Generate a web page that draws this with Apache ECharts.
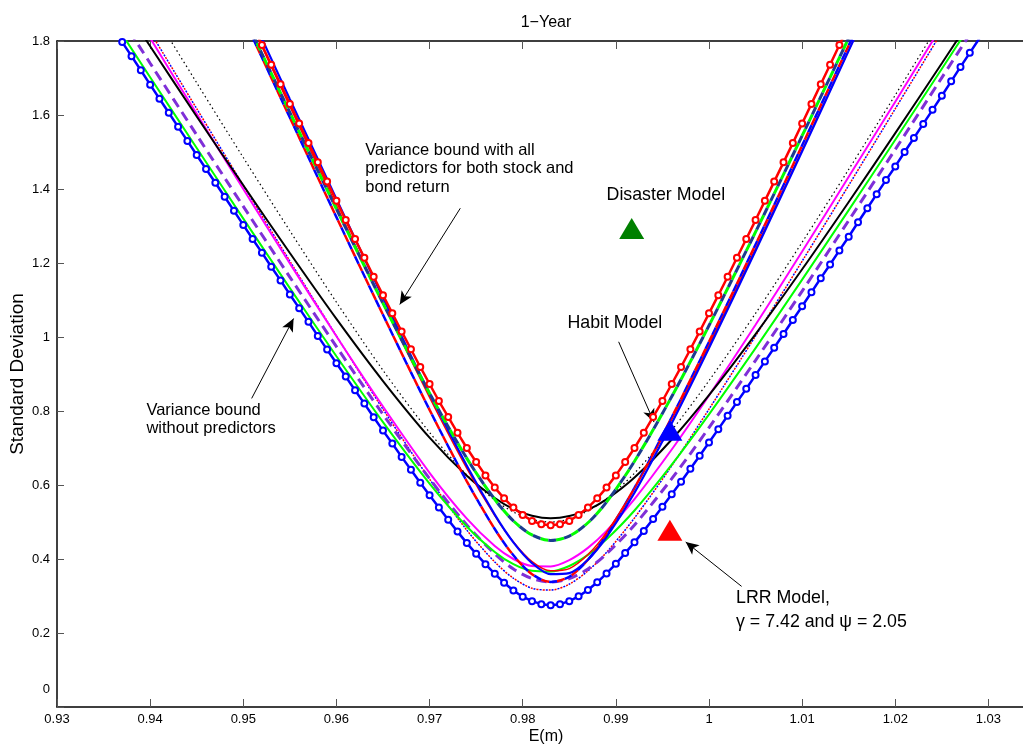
<!DOCTYPE html>
<html>
<head>
<meta charset="utf-8">
<title>1-Year variance bounds</title>
<script src="https://cdn.jsdelivr.net/npm/echarts@6/dist/echarts.min.js"></script>
<style>
  body { margin: 0; background: #fff; }
  #main { width: 1023px; height: 745px; }
</style>
</head>
<body>
<div id="main"></div>
<script>
// E(m) sample points used by the thin curves
const eM = [0.935, 0.940, 0.945, 0.950, 0.955, 0.960, 0.965, 0.970, 0.974, 0.977, 0.979, 0.981,
  0.983, 0.985, 0.987, 0.989, 0.992, 0.996, 1.000, 1.005, 1.010, 1.015, 1.020, 1.025, 1.030];

// bounds without predictors (wide group)
const purpleDash = [1.935, 1.740, 1.546, 1.353, 1.162, 0.974, 0.791, 0.617, 0.492, 0.414, 0.373, 0.347,
  0.338, 0.347, 0.373, 0.414, 0.492, 0.617, 0.755, 0.937, 1.124, 1.315, 1.507, 1.701, 1.896];
const dottedRB = [2.034, 1.825, 1.617, 1.410, 1.205, 1.003, 0.805, 0.616, 0.478, 0.392, 0.348, 0.321,
  0.316, 0.332, 0.368, 0.418, 0.511, 0.652, 0.805, 1.003, 1.205, 1.410, 1.617, 1.825, 2.034];
const greenSolid = [1.895, 1.702, 1.511, 1.320, 1.132, 0.948, 0.770, 0.604, 0.488, 0.419, 0.386, 0.368,
  0.366, 0.381, 0.411, 0.453, 0.531, 0.655, 0.791, 0.970, 1.155, 1.343, 1.533, 1.725, 1.918];
const magentaSolid = [2.014, 1.808, 1.603, 1.400, 1.199, 1.002, 0.812, 0.633, 0.509, 0.435, 0.400, 0.381,
  0.380, 0.397, 0.430, 0.476, 0.562, 0.696, 0.842, 1.033, 1.231, 1.433, 1.636, 1.841, 2.047];
const blackSolid = [1.977, 1.786, 1.596, 1.410, 1.227, 1.049, 0.881, 0.728, 0.625, 0.565, 0.535, 0.517,
  0.510, 0.516, 0.533, 0.561, 0.620, 0.723, 0.843, 1.008, 1.183, 1.365, 1.551, 1.740, 1.931];
const blackDotted = [2.096, 1.891, 1.687, 1.485, 1.287, 1.094, 0.910, 0.742, 0.627, 0.559, 0.527, 0.507,
  0.500, 0.508, 0.530, 0.563, 0.632, 0.748, 0.882, 1.064, 1.256, 1.453, 1.654, 1.858, 2.063];

// bounds with all predictors (steep group)
const greenNavyDash = [null, null, null, 1.872, 1.607, 1.346, 1.091, 0.848, 0.672, 0.561, 0.503, 0.465,
  0.450, 0.462, 0.498, 0.554, 0.664, 0.839, 1.031, 1.284, 1.544, 1.808, 2.075, null, null];
const blueSolid = [null, null, null, 1.916, 1.643, 1.373, 1.106, 0.847, 0.652, 0.520, 0.445, 0.389,
  0.359, 0.362, 0.398, 0.459, 0.579, 0.767, 0.970, 1.233, 1.502, 1.774, 2.048, null, null];
const redSolid = [null, null, null, 1.894, 1.623, 1.356, 1.092, 0.837, 0.645, 0.517, 0.446, 0.393,
  0.368, 0.374, 0.412, 0.472, 0.591, 0.777, 0.978, 1.239, 1.505, 1.775, 2.046, null, null];
const redBlueDash = [null, null, null, 1.864, 1.593, 1.324, 1.060, 0.803, 0.610, 0.481, 0.410, 0.359,
  0.338, 0.352, 0.398, 0.466, 0.592, 0.783, 0.987, 1.250, 1.518, 1.788, 2.059, null, null];

// curves drawn with circle markers, one value per 0.001 of E(m)
const blueCircleStart = 0.936;
const blueCircles = [1.835, 1.797, 1.759, 1.721, 1.682, 1.644, 1.606, 1.568, 1.530, 1.492, 1.454, 1.417,
  1.379, 1.341, 1.303, 1.265, 1.228, 1.190, 1.153, 1.115, 1.078, 1.041, 1.003, 0.966, 0.929, 0.893, 0.856,
  0.820, 0.783, 0.747, 0.712, 0.676, 0.641, 0.606, 0.572, 0.539, 0.506, 0.474, 0.443, 0.414, 0.386, 0.360,
  0.336, 0.315, 0.298, 0.286, 0.278, 0.275, 0.278, 0.286, 0.299, 0.316, 0.337, 0.361, 0.387, 0.416, 0.445,
  0.476, 0.508, 0.541, 0.575, 0.609, 0.644, 0.679, 0.715, 0.751, 0.787, 0.824, 0.860, 0.897, 0.934, 0.971,
  1.008, 1.046, 1.083, 1.121, 1.159, 1.196, 1.234, 1.271, 1.310, 1.348, 1.386, 1.424, 1.461, 1.500, 1.538,
  1.576, 1.614, 1.652, 1.691, 1.730, 1.768, 1.806, 1.844];
const redCircleStart = 0.951;
const redCircles = [1.843, 1.789, 1.736, 1.683, 1.630, 1.577, 1.524, 1.472, 1.420, 1.368, 1.316, 1.265,
  1.214, 1.163, 1.113, 1.064, 1.015, 0.967, 0.919, 0.873, 0.827, 0.784, 0.741, 0.700, 0.662, 0.626, 0.593,
  0.564, 0.539, 0.519, 0.503, 0.494, 0.491, 0.494, 0.503, 0.519, 0.539, 0.564, 0.593, 0.626, 0.662, 0.700,
  0.741, 0.784, 0.827, 0.873, 0.919, 0.967, 1.015, 1.064, 1.113, 1.163, 1.214, 1.265, 1.316, 1.368, 1.420,
  1.472, 1.524, 1.577, 1.630, 1.683, 1.736, 1.789, 1.843];

// model points: disaster, habit, LRR
const modelPoints = [[0.9917, 1.293], [0.9958, 0.748], [0.9958, 0.478]];
const modelColors = ["#008000", "#0000ff", "#ff0000"];

// annotations (left edge / first line centre in data units)
const noteText = [
  "Variance bound with all\npredictors for both stock and\nbond return",
  "Variance bound\nwithout predictors",
  "Habit Model",
  "Disaster Model",
  "LRR Model,\nγ = 7.42 and ψ = 2.05",
];
const notePos = [[0.9631, 1.505], [0.9396, 0.802], [0.9848, 1.037], [0.9890, 1.383], [1.0029, 0.293]];
const noteSize = [16.5, 16.5, 17.8, 17.8, 17.8];
const noteLine = [18.5, 18.5, 20, 20, 23.4];
const arrows = [
  [[0.9733, 1.348], [0.9668, 1.088]],
  [[0.9509, 0.834], [0.9554, 1.050]],
  [[0.9903, 0.987], [0.9941, 0.770]],
  [[1.0035, 0.326], [0.9975, 0.446]],
];

const FONT = '"Liberation Sans", Arial, sans-serif';

function pairs(ys) {
  return eM.map((x, i) => [x, ys[i]]).filter((p) => p[1] != null);
}

function curve(data, color, width, dash, offset, z) {
  return {
    type: "line",
    data: data,
    symbol: "none",
    smooth: 0.3,
    silent: true,
    z: z,
    lineStyle: { color: color, width: width, type: dash || "solid", dashOffset: offset || 0 },
  };
}

function circles(start, ys, color, z) {
  return {
    type: "line",
    data: ys.map((y, i) => [+(start + i * 0.001).toFixed(3), y]),
    symbol: "emptyCircle",
    symbolSize: 6,
    showAllSymbol: true,
    silent: true,
    z: z,
    lineStyle: { color: color, width: 2.5 },
    itemStyle: { color: color, borderColor: color, borderWidth: 3.5 },
  };
}

const chart = echarts.init(document.getElementById("main"));

const axisText = { color: "#000", fontSize: 13, fontFamily: FONT };

const option = {
  animation: false,
  grid: { left: 57, top: 41, width: 978, height: 666, containLabel: false, outerBoundsMode: "none" },
  xAxis: [
    {
      type: "value",
      min: 0.93,
      max: 1.035,
      interval: 0.01,
      name: "E(m)",
      nameLocation: "middle",
      nameGap: 22,
      nameMoveOverlap: false,
      nameTextStyle: { color: "#000", fontSize: 16, fontFamily: FONT },
      axisLine: { lineStyle: { color: "#000", width: 1.5 } },
      axisTick: { inside: true, length: 8, lineStyle: { color: "#555" } },
      axisLabel: Object.assign({ margin: 6, showMaxLabel: false }, axisText),
      splitLine: { show: false },
    },
    {
      type: "value",
      position: "top",
      min: 0.93,
      max: 1.035,
      interval: 0.01,
      axisLine: { lineStyle: { color: "#000", width: 1.5 } },
      axisTick: { inside: true, length: 8, lineStyle: { color: "#555" } },
      axisLabel: { show: false },
      splitLine: { show: false },
    },
  ],
  yAxis: {
    type: "value",
    min: 0,
    max: 1.8,
    interval: 0.2,
    name: "Standard Deviation",
    nameLocation: "middle",
    nameGap: 30,
    nameMoveOverlap: false,
    nameTextStyle: { color: "#000", fontSize: 19, fontFamily: FONT },
    axisLine: { lineStyle: { color: "#000", width: 1.5 } },
    axisTick: { inside: true, length: 7, lineStyle: { color: "#555" } },
    axisLabel: Object.assign({
      margin: 7,
      formatter: function (v) {
        return v === 0 ? "{z|0}" : String(v);
      },
      rich: { z: { fontSize: 13, fontFamily: FONT, color: "#000", padding: [0, 0, 36, 0] } },
    }, axisText),
    splitLine: { show: false },
  },
  series: [
    curve(pairs(blackDotted), "#000", 1.2, [1.5, 3], 0, 2),
    curve(pairs(dottedRB), "#ff0000", 1.5, [2, 4], 0, 2),
    curve(pairs(dottedRB), "#0000ff", 1.5, [2, 4], 3, 2),
    curve(pairs(purpleDash), "#7f2fd8", 3, [10, 6], 0, 3),
    curve(pairs(greenSolid), "#00ff00", 2, null, 0, 3),
    curve(pairs(magentaSolid), "#ff00ff", 2, null, 0, 3),
    curve(pairs(blackSolid), "#000", 2, null, 0, 3),
    curve(pairs(redBlueDash), "#ff0000", 2.5, [8, 8], 0, 3),
    curve(pairs(redBlueDash), "#0000ff", 2.5, [8, 8], 8, 3),
    curve(pairs(redSolid), "#ff0000", 1.5, null, 0, 4),
    curve(pairs(blueSolid), "#0000ff", 2.2, null, 0, 4),
    curve(pairs(greenNavyDash), "#00ff00", 3, [8, 8], 0, 4),
    curve(pairs(greenNavyDash), "#1c3d8f", 3, [8, 8], 8, 4),
    circles(redCircleStart, redCircles, "#ff0000", 5),
    circles(blueCircleStart, blueCircles, "#0000ff", 5),
    {
      type: "scatter",
      data: modelPoints.map((p, i) => ({ value: p, itemStyle: { color: modelColors[i], opacity: 1 } })),
      symbol: "triangle",
      symbolSize: [25, 21],
      silent: true,
      z: 6,
      markLine: {
        silent: true,
        symbol: ["none", "arrow"],
        symbolSize: [9, 13],
        label: { show: false },
        lineStyle: { color: "#000", width: 1, type: "solid" },
        data: arrows.map((a) => [{ coord: a[0] }, { coord: a[1] }]),
      },
    },
  ],
};

chart.setOption(option);

const graphics = [
  {
    type: "text",
    x: 57 + 978 / 2,
    y: 23,
    style: { text: "1−Year", fontSize: 16, fontFamily: FONT, fill: "#000", align: "center", verticalAlign: "middle" },
  },
];
noteText.forEach(function (t, i) {
  const p = chart.convertToPixel({ xAxisIndex: 0, yAxisIndex: 0 }, notePos[i]);
  graphics.push({
    type: "text",
    x: p[0],
    y: p[1] - noteLine[i] / 2,
    z: 10,
    style: {
      text: t,
      fontSize: noteSize[i],
      fontFamily: FONT,
      lineHeight: noteLine[i],
      fill: "#000",
      align: "left",
      verticalAlign: "top",
    },
  });
});
chart.setOption({ graphic: graphics });
</script>
</body>
</html>
